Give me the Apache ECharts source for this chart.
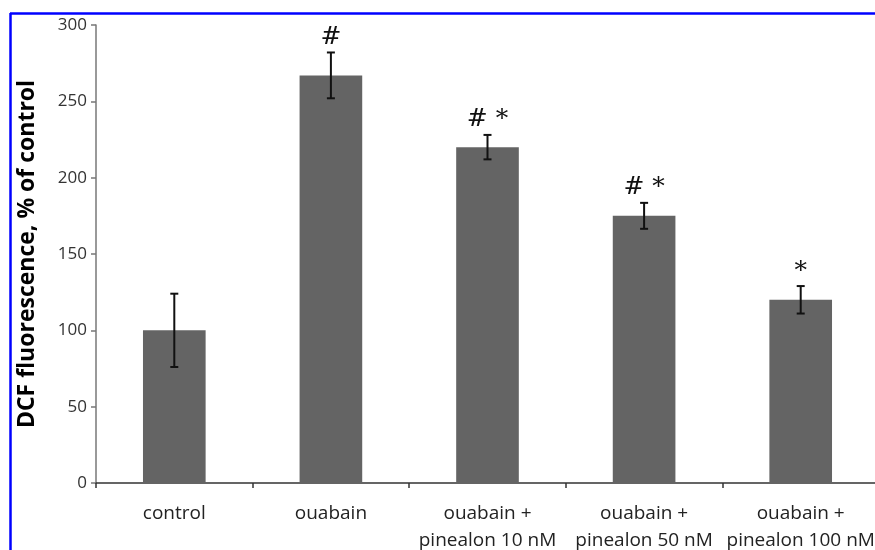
<!DOCTYPE html>
<html>
<head>
<meta charset="utf-8">
<script src="https://cdn.jsdelivr.net/npm/echarts@6/dist/echarts.min.js"></script>
<style>html,body{margin:0;padding:0;background:#fff}#c{width:875px;height:550px}</style>
</head>
<body>
<div id="c"></div>
<script>
var categories = ['control', 'ouabain', 'ouabain +\npinealon 10 nM', 'ouabain +\npinealon 50 nM', 'ouabain +\npinealon 100 nM'];
var means = [100, 267, 220, 175, 120];
var errors = [24, 15, 8, 8.5, 9];
var marks = ['', '#', '# *', '# *', '*'];
var yTicks = { min: 0, max: 300, interval: 50 };

var chart = echarts.init(document.getElementById('c'), null, { renderer: 'canvas' });
var errData = means.map(function (m, i) { return [i, m - errors[i], m + errors[i]]; });

chart.setOption({
  animation: false,
  backgroundColor: '#fff',
  grid: { left: 96, top: 25, width: 783, height: 458, containLabel: false, outerBoundsMode: 'none' },
  xAxis: {
    type: 'category',
    data: categories,
    axisLine: { lineStyle: { color: '#333', width: 1.5 } },
    axisTick: { show: true, length: 5, inside: false, lineStyle: { color: '#333', width: 1.5 } },
    axisLabel: { color: '#222', fontFamily: 'Open Sans', fontSize: 19, lineHeight: 27, margin: 17, interval: 0 }
  },
  yAxis: {
    type: 'value',
    min: yTicks.min, max: yTicks.max, interval: yTicks.interval,
    name: 'DCF fluorescence, % of control',
    nameLocation: 'middle',
    nameGap: 57,
    nameTextStyle: { color: '#000', fontFamily: 'Open Sans', fontWeight: 'bold', fontSize: 23 },
    splitLine: { show: false },
    axisLine: { show: true, lineStyle: { color: '#777', width: 1.5 } },
    axisTick: { show: true, length: 5, lineStyle: { color: '#777', width: 1.5 } },
    axisLabel: { color: '#333', fontFamily: 'Open Sans', fontSize: 17, margin: 9 }
  },
  series: [
    {
      type: 'bar',
      data: means,
      barWidth: '40%',
      itemStyle: { color: '#646464' }
    },
    {
      type: 'custom',
      data: errData,
      z: 10,
      renderItem: function (params, api) {
        var x = api.value(0);
        var lo = api.coord([x, api.value(1)]);
        var hi = api.coord([x, api.value(2)]);
        var cap = 4;
        var st = { stroke: '#111', lineWidth: 2 };
        return {
          type: 'group',
          children: [
            { type: 'line', shape: { x1: lo[0], y1: lo[1], x2: hi[0], y2: hi[1] }, style: st },
            { type: 'line', shape: { x1: lo[0] - cap, y1: lo[1], x2: lo[0] + cap, y2: lo[1] }, style: st },
            { type: 'line', shape: { x1: hi[0] - cap, y1: hi[1], x2: hi[0] + cap, y2: hi[1] }, style: st },
            { type: 'text', style: { text: marks[params.dataIndex], x: hi[0], y: hi[1] - 15, align: 'center', verticalAlign: 'middle', fill: '#111', font: '25px "DejaVu Serif"' } }
          ]
        };
      }
    }
  ],
  graphic: [
    { type: 'line', z: 100, shape: { x1: 10, y1: 13.5, x2: 875, y2: 13.5 }, style: { stroke: '#0000ff', lineWidth: 2.5 } },
    { type: 'line', z: 100, shape: { x1: 10.5, y1: 13, x2: 10.5, y2: 550 }, style: { stroke: '#0000ff', lineWidth: 2.5 } }
  ]
});
</script>
</body>
</html>
